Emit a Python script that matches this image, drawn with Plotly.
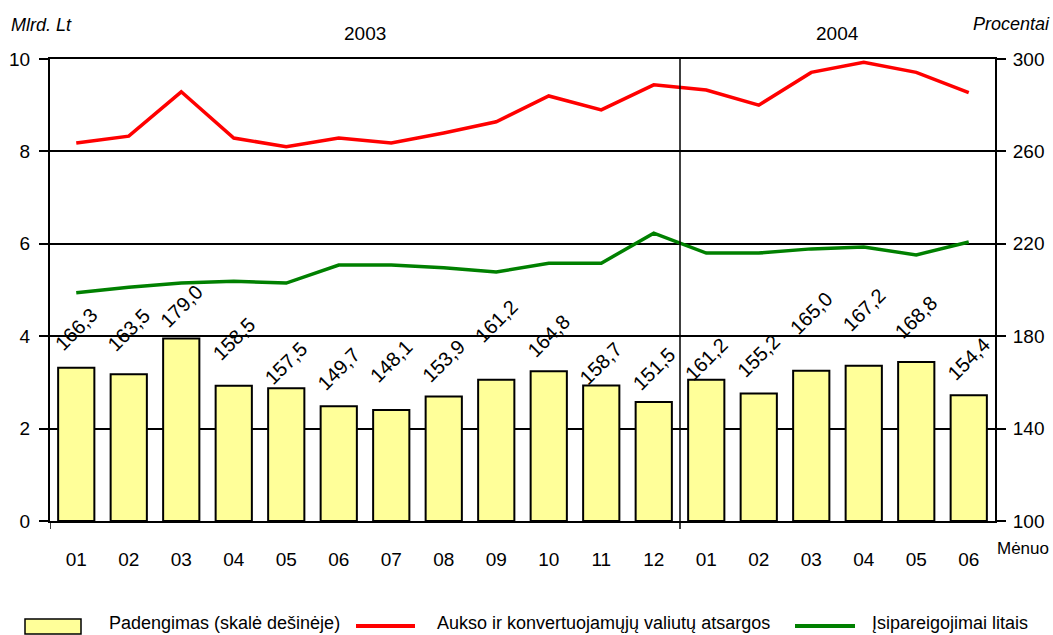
import plotly.graph_objects as go

# ---- data ----
months = ["01", "02", "03", "04", "05", "06", "07", "08", "09", "10", "11", "12",
          "01", "02", "03", "04", "05", "06"]
coverage = [166.3, 163.5, 179.0, 158.5, 157.5, 149.7, 148.1, 153.9, 161.2, 164.8, 158.7, 151.5,
            161.2, 155.2, 165.0, 167.2, 168.8, 154.4]
reserves = [8.18, 8.33, 9.29, 8.29, 8.10, 8.29, 8.18, 8.40, 8.64, 9.20, 8.90, 9.44,
            9.33, 9.00, 9.71, 9.93, 9.71, 9.27]
liabilities = [4.94, 5.06, 5.15, 5.19, 5.15, 5.54, 5.54, 5.48, 5.39, 5.58, 5.58, 6.23,
               5.80, 5.80, 5.89, 5.93, 5.76, 6.04]
coverage_labels = [f"{v:.1f}".replace(".", ",") for v in coverage]
years = ["2003", "2004"]
left_ticks = [0, 2, 4, 6, 8, 10]
right_ticks = [100, 140, 180, 220, 260, 300]

# label lift above bar top (pixels) - styling only
label_lift = [39, 44, 33, 47, 25, 37, 49, 35, 59, 35, 22, 33, 21, 37, 58, 56, 45, 36]

FONT = "Liberation Sans, Arial, sans-serif"
FS = 19

L, R, T, B = 50, 58, 59, 114
W, H = 1053, 635
PW, PH = W - L - R, H - T - B


def px2x(px):
    return (px - L) / PW


def py2y(py):
    return (H - B - py) / PH


xs = list(range(len(months)))

fig = go.Figure()
fig.add_trace(go.Bar(
    x=xs, y=[v - 100 for v in coverage], base=100, yaxis="y2", width=0.69,
    marker=dict(color="#FFFF99", line=dict(color="black", width=2)),
    name="Padengimas (skalė dešinėje)", showlegend=False))
fig.add_trace(go.Scatter(
    x=xs, y=reserves, mode="lines", line=dict(color="#FF0000", width=3.5),
    name="Aukso ir konvertuojamųjų valiutų atsargos", showlegend=False))
fig.add_trace(go.Scatter(
    x=xs, y=liabilities, mode="lines", line=dict(color="#008000", width=3.5),
    name="Įsipareigojimai litais", showlegend=False))

annotations = []
for i, (v, lab) in enumerate(zip(coverage, coverage_labels)):
    annotations.append(dict(x=i, y=v, xref="x", yref="y2", text=lab, textangle=-45,
                            showarrow=False, xanchor="center", yanchor="middle",
                            yshift=label_lift[i], font=dict(family=FONT, size=FS + 1, color="black")))

def label(x, y, xref, yref, text, xs_, ys_, size):
    return dict(x=x, y=y, xref=xref, yref=yref, text=text, showarrow=False,
                xanchor="center", yanchor="middle", xshift=xs_, yshift=ys_,
                font=dict(family=FONT, size=size, color="black"))

annotations.append(label(5.5, 1, "x", "paper", years[0], 0, 26, FS))
annotations.append(label(14.5, 1, "x", "paper", years[1], 0, 26, FS))
annotations.append(label(0, 1, "paper", "paper", "<i>Mlrd. Lt</i>", -9, 34, FS - 1))
annotations.append(label(1, 1, "paper", "paper", "<i>Procentai</i>", 16, 35, FS - 1))
annotations.append(label(1, 0, "paper", "paper", "Mėnuo", 28, -27, FS - 2))

# manual legend
legend_texts = ["Padengimas (skalė dešinėje)", "Aukso ir konvertuojamųjų valiutų atsargos",
                "Įsipareigojimai litais"]
legend_text_px = [107, 435, 870]
for t, p in zip(legend_texts, legend_text_px):
    annotations.append(dict(x=px2x(p), y=py2y(623), xref="paper", yref="paper", text=t,
                            showarrow=False, xanchor="left", yanchor="middle",
                            font=dict(family=FONT, size=FS - 1, color="black")))

shapes = [
    dict(type="line", xref="x", yref="paper", x0=11.5, x1=11.5, y0=py2y(529), y1=1,
         line=dict(color="black", width=1.5)),
    dict(type="line", xref="x", yref="paper", x0=-0.5, x1=-0.5, y0=py2y(529), y1=0,
         line=dict(color="black", width=1.5)),
    dict(type="rect", xref="paper", yref="paper", x0=px2x(25), x1=px2x(81),
         y0=py2y(634), y1=py2y(619), fillcolor="#FFFF99", line=dict(color="black", width=1.5)),
    dict(type="line", xref="paper", yref="paper", x0=px2x(356), x1=px2x(415),
         y0=py2y(626), y1=py2y(626), line=dict(color="#FF0000", width=4)),
    dict(type="line", xref="paper", yref="paper", x0=px2x(795), x1=px2x(855),
         y0=py2y(626), y1=py2y(626), line=dict(color="#008000", width=4)),
]

fig.update_layout(
    width=W, height=H,
    margin=dict(l=L, r=R, t=T, b=B),
    paper_bgcolor="white", plot_bgcolor="white",
    font=dict(family=FONT, size=FS, color="black"),
    bargap=0.31,
    xaxis=dict(range=[-0.5, len(months) - 0.5], tickvals=xs, ticktext=months, automargin=False,
               showgrid=False, zeroline=False, showline=True, linecolor="black", linewidth=2,
               mirror=True, ticks="", ticklabelstandoff=20, tickfont=dict(size=FS)),
    yaxis=dict(range=[0, 10], tickvals=left_ticks, showgrid=True, gridcolor="black", gridwidth=1.5,
               zeroline=False, showline=True, linecolor="black", linewidth=2, automargin=False,
               ticks="outside", ticklen=9, tickwidth=1.5, tickcolor="black",
               ticklabelstandoff=5, tickfont=dict(size=FS)),
    yaxis2=dict(range=[100, 300], tickvals=right_ticks, overlaying="y", side="right", showgrid=False,
                zeroline=False, showline=True, linecolor="black", linewidth=2, automargin=False,
                ticks="outside", ticklen=9, tickwidth=1.5, tickcolor="black",
                ticklabelstandoff=3, tickfont=dict(size=FS)),
    annotations=annotations,
    shapes=shapes,
    showlegend=False,
)

fig.write_html("out.html", config={"displayModeBar": False},
               post_script="document.body.style.margin='0';document.body.style.padding='0';")
